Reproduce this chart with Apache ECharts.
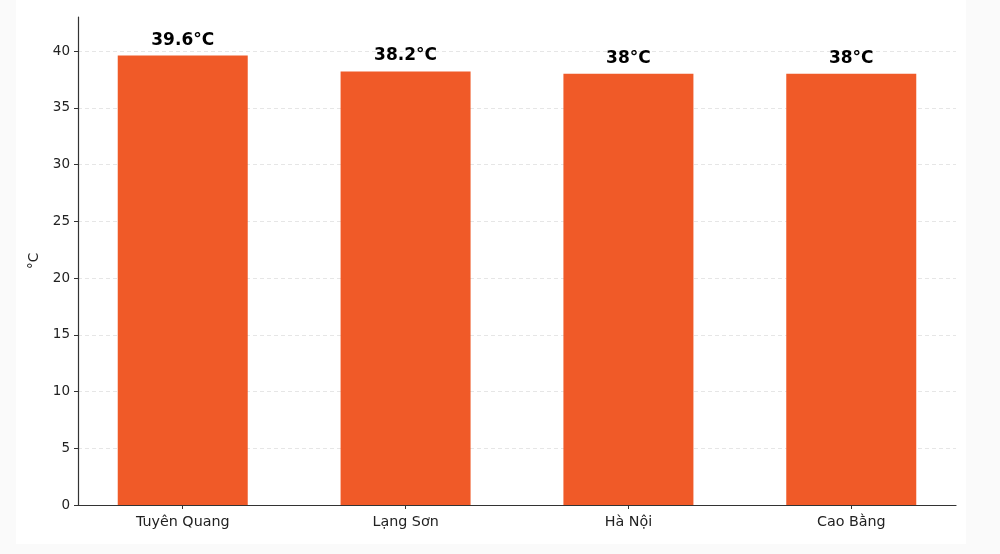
<!DOCTYPE html>
<html>
<head>
<meta charset="utf-8">
<script src="https://cdn.jsdelivr.net/npm/echarts@6/dist/echarts.min.js"></script>
<style>
  html, body { margin: 0; padding: 0; background: #fafafa; }
  #chart { width: 1000px; height: 554px; }
</style>
</head>
<body>
<div id="chart"></div>
<script>
// tinh thanh va nhiet do cao nhat
var provinces = ['Tuyên Quang', 'Lạng Sơn', 'Hà Nội', 'Cao Bằng'];
var temps = [39.6, 38.2, 38, 38];
var yTicks = [0, 5, 10, 15, 20, 25, 30, 35, 40];
var catPos = [0, 1, 2, 3];

var chart = echarts.init(document.getElementById('chart'));

var option = {
  backgroundColor: '#fafafa',
  animation: false,
  graphic: [{
    type: 'rect',
    z: -10,
    shape: { x: 16, y: 0, width: 950, height: 544 },
    style: { fill: '#ffffff' }
  }],
  grid: { left: 78, right: 44, top: 17, bottom: 49 },
  xAxis: {
    type: 'value',
    min: -0.47,
    max: 3.47,
    splitLine: { show: false },
    axisLine: { show: true, onZero: false, lineStyle: { color: '#333', width: 1.2 } },
    axisTick: { show: true, length: 4, customValues: catPos, lineStyle: { color: '#333' } },
    axisLabel: {
      customValues: catPos,
      margin: 10,
      color: '#222',
      fontFamily: 'DejaVu Sans',
      fontSize: 14.3,
      formatter: function (v) { return provinces[Math.round(v)]; }
    }
  },
  yAxis: {
    type: 'value',
    min: 0,
    max: 43,
    interval: 5,
    name: '°C',
    nameLocation: 'middle',
    nameGap: 37,
    nameRotate: 90,
    nameTextStyle: { color: '#222', fontFamily: 'DejaVu Sans', fontSize: 13.5 },
    axisLine: { show: true, onZero: false, lineStyle: { color: '#333', width: 1.2 } },
    axisTick: { show: true, length: 4, customValues: yTicks, lineStyle: { color: '#333' } },
    axisLabel: {
      customValues: yTicks,
      margin: 8,
      color: '#222',
      fontFamily: 'DejaVu Sans',
      fontSize: 13.5
    },
    splitLine: { show: true, lineStyle: { color: '#e6e6e6', type: [4, 3], width: 1 } }
  },
  series: [{
    type: 'bar',
    barWidth: 130,
    data: catPos.map(function (i) { return [i, temps[i]]; }),
    itemStyle: { color: '#f05a28' },
    label: {
      show: true,
      position: 'top',
      distance: 7,
      color: '#000',
      fontFamily: 'DejaVu Sans',
      fontWeight: 'bold',
      fontSize: 17,
      formatter: function (p) { return p.value[1] + '°C'; }
    }
  }]
};

chart.setOption(option);
window.onresize = chart.resize;
</script>
</body>
</html>
